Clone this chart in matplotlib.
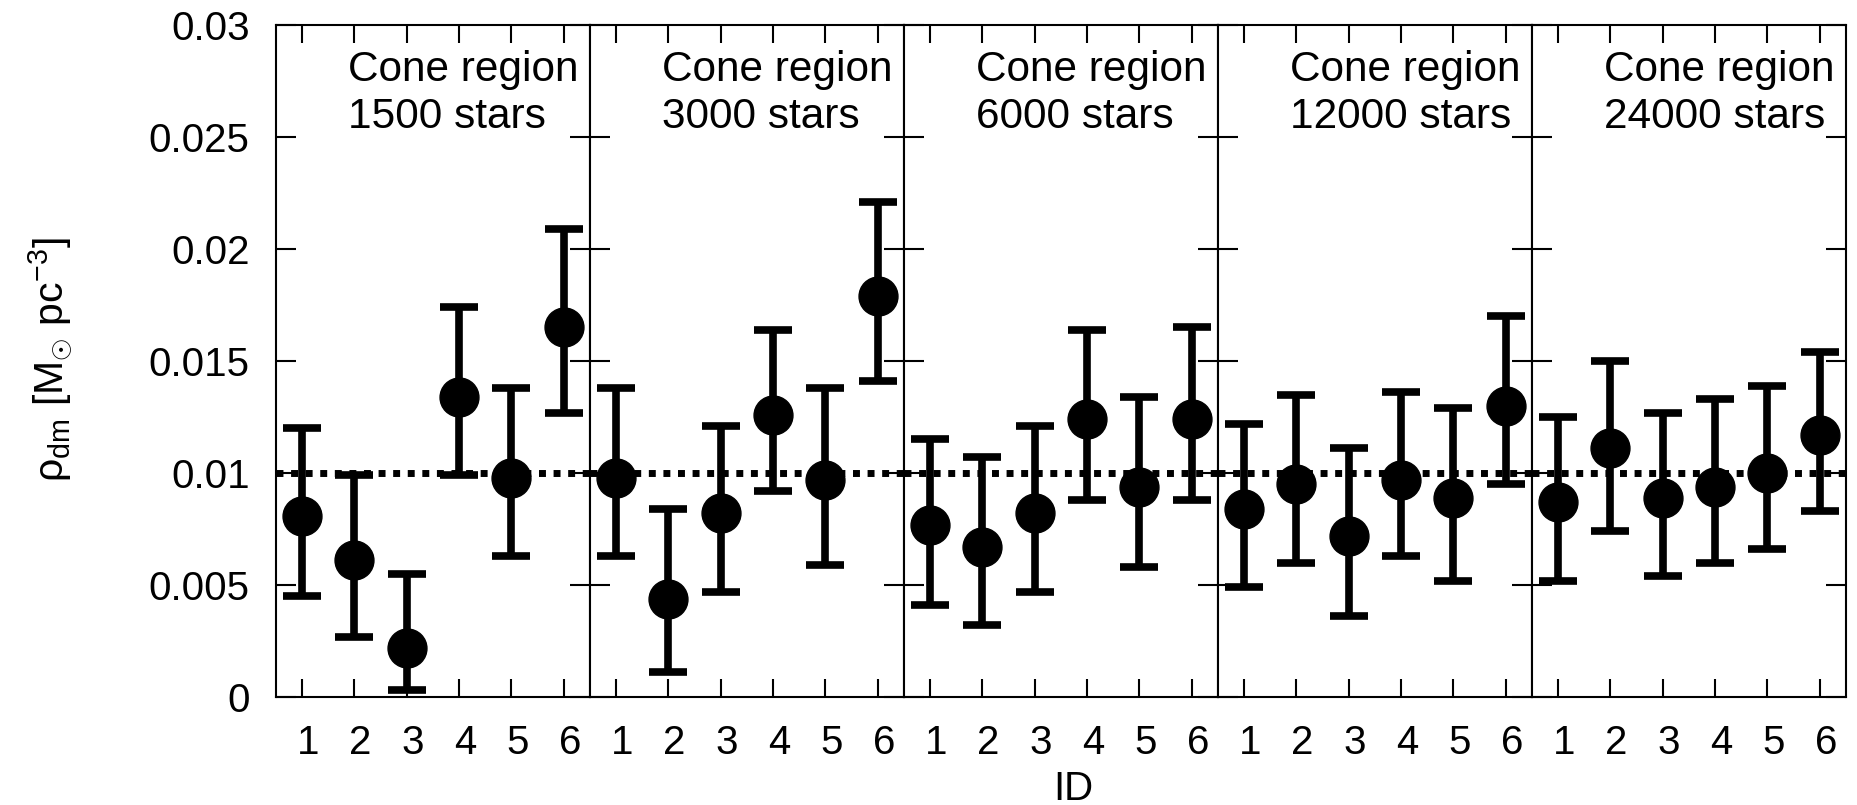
import matplotlib
matplotlib.use("Agg")
import matplotlib.pyplot as plt
from matplotlib.transforms import ScaledTranslation
import numpy as np

plt.rcParams['font.family'] = ['Liberation Sans', 'DejaVu Sans']
plt.rcParams['mathtext.fontset'] = 'custom'
plt.rcParams['mathtext.rm'] = 'Liberation Sans'
plt.rcParams['mathtext.it'] = 'Liberation Sans:italic'
plt.rcParams['mathtext.bf'] = 'Liberation Sans:bold'

# data
ids = [1, 2, 3, 4, 5, 6]
n_stars = [1500, 3000, 6000, 12000, 24000]

rho_1500 = [0.0081, 0.0061, 0.0022, 0.0134, 0.0098, 0.0165]
hi_1500 = [0.0120, 0.0099, 0.0055, 0.0174, 0.0138, 0.0209]
lo_1500 = [0.0045, 0.0027, 0.0003, 0.0099, 0.0063, 0.0127]

rho_3000 = [0.0098, 0.0044, 0.0082, 0.0126, 0.0097, 0.0179]
hi_3000 = [0.0138, 0.0084, 0.0121, 0.0164, 0.0138, 0.0221]
lo_3000 = [0.0063, 0.0011, 0.0047, 0.0092, 0.0059, 0.0141]

rho_6000 = [0.0077, 0.0067, 0.0082, 0.0124, 0.0094, 0.0124]
hi_6000 = [0.0115, 0.0107, 0.0121, 0.0164, 0.0134, 0.0165]
lo_6000 = [0.0041, 0.0032, 0.0047, 0.0088, 0.0058, 0.0088]

rho_12000 = [0.0084, 0.0095, 0.0072, 0.0097, 0.0089, 0.0130]
hi_12000 = [0.0122, 0.0135, 0.0111, 0.0136, 0.0129, 0.0170]
lo_12000 = [0.0049, 0.0060, 0.0036, 0.0063, 0.0052, 0.0095]

rho_24000 = [0.0087, 0.0111, 0.0089, 0.0094, 0.0100, 0.0117]
hi_24000 = [0.0125, 0.0150, 0.0127, 0.0133, 0.0139, 0.0154]
lo_24000 = [0.0052, 0.0074, 0.0054, 0.0060, 0.0066, 0.0083]

rho_true = 0.01
yticks = [0, 0.005, 0.01, 0.015, 0.02, 0.025, 0.03]
ytick_labels = ['0', '0.005', '0.01', '0.015', '0.02', '0.025', '0.03']

panels = [
    (rho_1500, hi_1500, lo_1500),
    (rho_3000, hi_3000, lo_3000),
    (rho_6000, hi_6000, lo_6000),
    (rho_12000, hi_12000, lo_12000),
    (rho_24000, hi_24000, lo_24000),
]

fig, axes = plt.subplots(1, 5, figsize=(18.58, 8.05), dpi=100, sharey=True)
fig.subplots_adjust(left=0.1485, right=0.9935, top=0.969, bottom=0.134, wspace=0)

shift = ScaledTranslation(6 / 100, 0, fig.dpi_scale_trans)

for i, ax in enumerate(axes):
    rho, hi, lo = [np.array(a) for a in panels[i]]
    ax.axhline(rho_true, color='k', lw=5, ls=(0, (1, 1.1)), zorder=1)
    ax.errorbar(ids, rho, yerr=[rho - lo, hi - rho], fmt='o', color='k',
                ms=28, elinewidth=5.5, capsize=14, capthick=5.5, zorder=3)
    ax.set_xlim(0.5, 6.5)
    ax.set_ylim(0, 0.03)
    ax.set_xticks(ids)
    ax.set_xticklabels([str(k) for k in ids])
    ax.set_yticks(yticks)
    ax.set_yticklabels(ytick_labels)
    ax.tick_params(axis='x', direction='in', length=13, width=1.5,
                   top=True, bottom=True, labelsize=29, pad=19)
    ax.tick_params(axis='y', direction='in', length=14.5, width=1.5,
                   left=True, right=True, labelsize=29, pad=19,
                   labelleft=(i == 0))
    for sp in ax.spines.values():
        sp.set_linewidth(1.5)
    for lab in ax.get_xticklabels():
        lab.set_transform(lab.get_transform() + shift)
    ax.text(0.965, 0.962, 'Cone region\n%d stars' % n_stars[i],
            transform=ax.transAxes, ha='right', va='top',
            multialignment='left', fontsize=30.5)

fig.text(0.5775, 0.006, 'ID', ha='center', va='baseline', fontsize=29)
fig.text(0.027, 0.553, 'ρ$_{\\mathrm{dm}}$ [M$_{\\odot}$ pc$^{-3}$]',
         rotation=90, ha='center', va='center', fontsize=29.5)

fig.savefig('out.png', dpi=100)
